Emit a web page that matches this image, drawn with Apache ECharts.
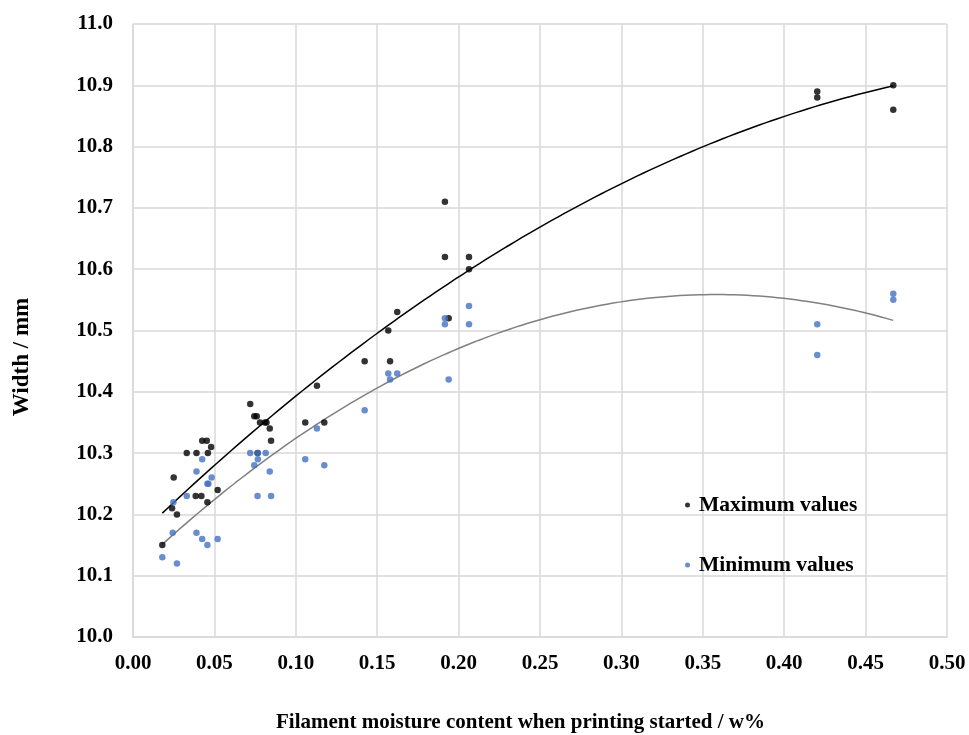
<!DOCTYPE html>
<html>
<head>
<meta charset="utf-8">
<script src="https://cdn.jsdelivr.net/npm/echarts@6/dist/echarts.min.js"></script>
<style>
html,body{margin:0;padding:0;background:#fff;}
#chart{width:969px;height:735px;}
</style>
</head>
<body>
<div id="chart"></div>
<script>
// Maximum values [moisture w%, width mm]
const maxValues = [
  [0.018,10.15],[0.024,10.21],[0.025,10.26],[0.027,10.20],[0.033,10.30],[0.039,10.30],
  [0.0385,10.23],[0.042,10.23],[0.0425,10.32],[0.0453,10.32],[0.046,10.30],[0.048,10.31],
  [0.0457,10.22],[0.052,10.24],
  [0.072,10.38],[0.0745,10.36],[0.076,10.36],[0.078,10.35],[0.081,10.35],[0.082,10.35],
  [0.084,10.34],[0.0848,10.32],[0.0765,10.30],
  [0.1058,10.35],[0.1175,10.35],[0.113,10.41],[0.1423,10.45],[0.1579,10.45],[0.1568,10.50],
  [0.1623,10.53],[0.1916,10.71],[0.1916,10.62],[0.2064,10.62],[0.2064,10.60],[0.1939,10.52],
  [0.4203,10.89],[0.4203,10.88],[0.467,10.90],[0.467,10.86]
];
// Minimum values [moisture w%, width mm]
const minValues = [
  [0.018,10.13],[0.027,10.12],[0.0248,10.22],[0.0244,10.17],[0.033,10.23],[0.039,10.27],
  [0.0425,10.29],[0.039,10.17],[0.0425,10.16],[0.0457,10.15],[0.0457,10.25],[0.0463,10.25],
  [0.0483,10.26],[0.052,10.16],
  [0.072,10.30],[0.0767,10.30],[0.0815,10.30],[0.0767,10.29],[0.0745,10.28],[0.084,10.27],
  [0.0765,10.23],[0.0848,10.23],
  [0.1058,10.29],[0.1175,10.28],[0.113,10.34],[0.1423,10.37],[0.1568,10.43],[0.1623,10.43],
  [0.1579,10.42],[0.1916,10.52],[0.1916,10.51],[0.2064,10.54],[0.2064,10.51],[0.1939,10.42],
  [0.4203,10.51],[0.4203,10.46],[0.467,10.56],[0.467,10.55]
];
const seriesNames = ['Maximum values','Minimum values'];
const xTitle = 'Filament moisture content when printing started / w%';
const yTitle = 'Width / mm';

// quadratic least-squares trendline (as in spreadsheet polynomial trendline, order 2)
function quadFit(pts){
  let S=[0,0,0,0,0], T=[0,0,0];
  pts.forEach(([x,y])=>{
    let p=1; for(let k=0;k<5;k++){S[k]+=p; if(k<3) T[k]+=p*y; p*=x;}
  });
  const A=[[S[0],S[1],S[2],T[0]],[S[1],S[2],S[3],T[1]],[S[2],S[3],S[4],T[2]]];
  for(let i=0;i<3;i++){
    for(let j=i+1;j<3;j++){const f=A[j][i]/A[i][i]; for(let k=i;k<4;k++) A[j][k]-=f*A[i][k];}
  }
  const c=[0,0,0];
  for(let i=2;i>=0;i--){let s=A[i][3]; for(let k=i+1;k<3;k++) s-=A[i][k]*c[k]; c[i]=s/A[i][i];}
  return c;
}
function trend(pts){
  const c=quadFit(pts);
  const xs=pts.map(p=>p[0]);
  const x0=Math.min(...xs), x1=Math.max(...xs);
  const out=[];
  const n=120;
  for(let i=0;i<=n;i++){const x=x0+(x1-x0)*i/n; out.push([x,c[0]+c[1]*x+c[2]*x*x]);}
  return out;
}

const font = '"Liberation Serif","Times New Roman",serif';
const chart = echarts.init(document.getElementById('chart'), null, {renderer:'canvas'});
chart.setOption({
  animation:false,
  backgroundColor:'#fff',
  grid:{left:133, right:22, top:24, bottom:98, containLabel:false, show:false},
  xAxis:{
    type:'value', min:0, max:0.5, interval:0.05,
    axisLine:{show:true, lineStyle:{color:'#d9d9d9', width:1.5}},
    axisTick:{show:false},
    splitLine:{show:true, lineStyle:{color:'#d9d9d9', width:1.5}},
    axisLabel:{fontFamily:font, fontWeight:'bold', fontSize:21, color:'#000', margin:16,
      formatter:v=>v.toFixed(2)}
  },
  yAxis:{
    type:'value', min:10.0, max:11.0, interval:0.1,
    axisLine:{show:true, lineStyle:{color:'#d9d9d9', width:1.5}},
    axisTick:{show:false},
    splitLine:{show:true, lineStyle:{color:'#d9d9d9', width:1.5}},
    axisLabel:{fontFamily:font, fontWeight:'bold', fontSize:21, color:'#000', margin:20,
      formatter:v=>v.toFixed(1)}
  },
  legend:{
    orient:'vertical', left:680, top:488, itemGap:36,
    itemWidth:5, itemHeight:5, icon:'circle',
    data:seriesNames,
    textStyle:{fontFamily:font, fontWeight:'bold', fontSize:21.5, color:'#000', lineHeight:24, padding:[0,0,0,4]}
  },
  graphic:[
    {type:'text', left:276, top:712, style:{text:xTitle, font:'bold 21px "Liberation Serif"', fill:'#000'}},
    {type:'text', x:22, y:357, rotation:Math.PI/2, style:{text:yTitle, font:'bold 23px "Liberation Serif"', fill:'#000', align:'center', verticalAlign:'middle'}}
  ],
  series:[
    {name:seriesNames[0], type:'scatter', data:maxValues, symbolSize:6.5, itemStyle:{color:'#000'}, z:5},
    {name:seriesNames[1], type:'scatter', data:minValues, symbolSize:6.5, itemStyle:{color:'#4472c4'}, z:5},
    {name:'maxTrend', type:'line', data:trend(maxValues), showSymbol:false, smooth:false,
      lineStyle:{color:'#000', width:1.5}, z:3, silent:true},
    {name:'minTrend', type:'line', data:trend(minValues), showSymbol:false, smooth:false,
      lineStyle:{color:'#808080', width:1.5}, z:3, silent:true}
  ]
});
</script>
</body>
</html>
